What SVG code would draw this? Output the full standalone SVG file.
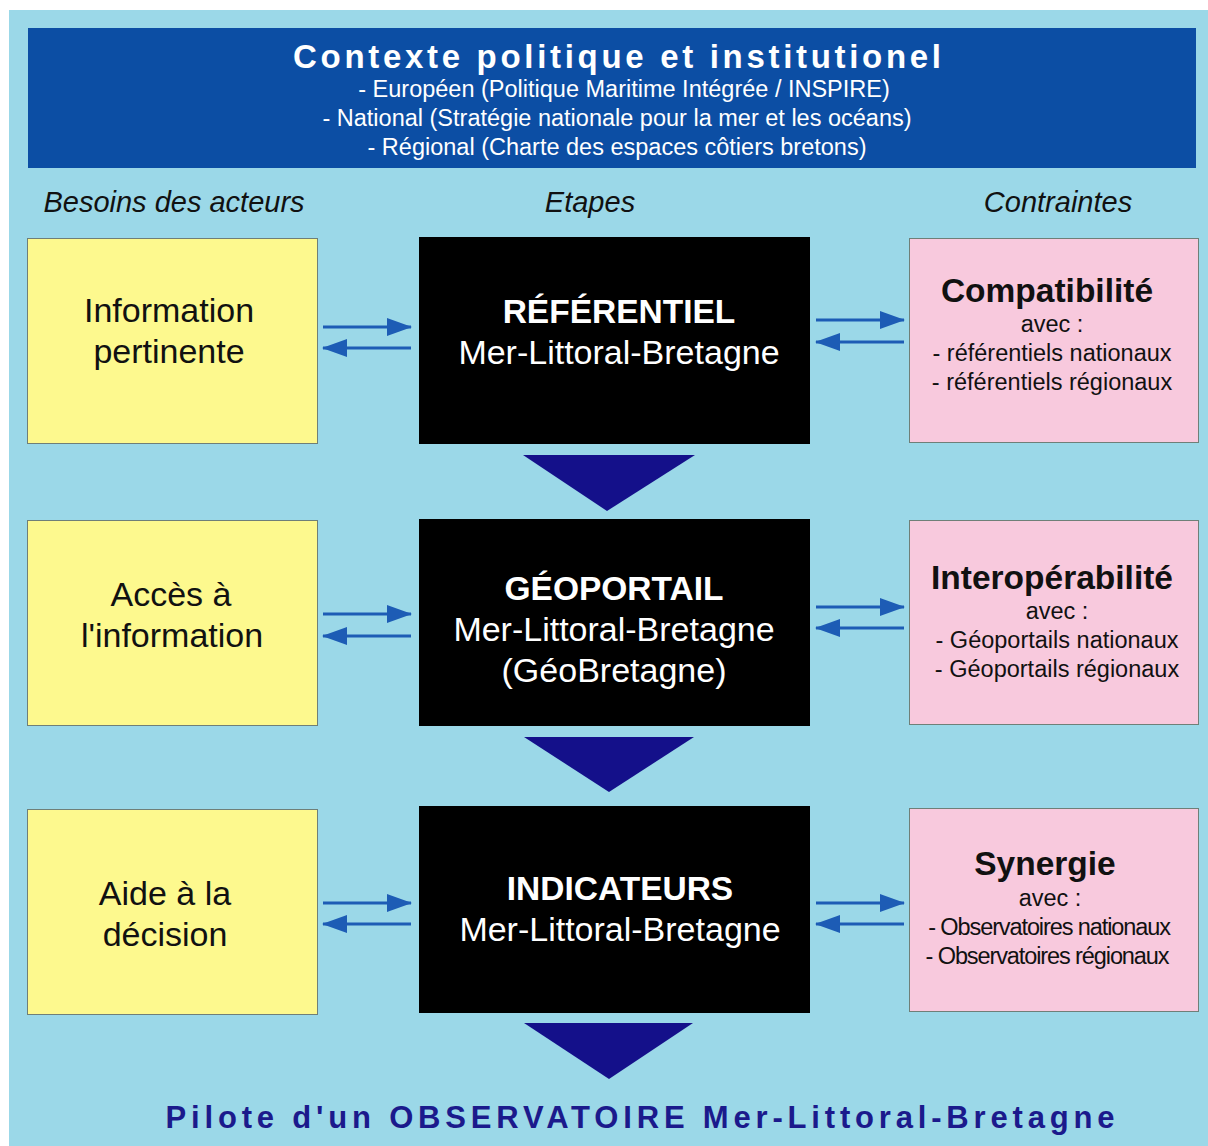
<svg xmlns="http://www.w3.org/2000/svg" width="1208" height="1146" viewBox="0 0 1208 1146">
<style>
.bg{fill:#9bd8e8}
.hdr{fill:#0c4ea4}
.yel{fill:#fdf98e;stroke:#6f7f78;stroke-width:1}
.blk{fill:#000000}
.pnk{fill:#f8c9dd;stroke:#6f7f78;stroke-width:1}
.tri{fill:#14108a}
.con{stroke:#1d5cb5;stroke-width:3;fill:none;marker-end:url(#ah)}
text{font-family:"Liberation Sans",Arial,sans-serif;text-anchor:middle}
.ht{font-size:33px;font-weight:bold;fill:#ffffff}
.hs{font-size:23.5px;fill:#ffffff}
.col{font-size:29px;font-style:italic;fill:#111111}
.yt{font-size:34px;fill:#111111}
.bt{font-size:33.5px;font-weight:bold;fill:#ffffff}
.bs{font-size:34px;fill:#ffffff}
.pt{font-size:33.5px;font-weight:bold;fill:#111111}
.ps{font-size:23.5px;fill:#111111}
.ft{font-size:31px;font-weight:bold;fill:#1b1a8c}
</style>
<defs>
<marker id="ah" markerUnits="userSpaceOnUse" markerWidth="26" markerHeight="20" refX="24" refY="9" orient="auto">
<path d="M0,0 L25,9 L0,18 z" fill="#1d5cb5"/>
</marker>
</defs>
<rect x="0" y="0" width="1208" height="1146" fill="#ffffff"/>
<rect class="bg" x="9" y="10" width="1199" height="1136"/>

<g id="header">
<rect class="hdr" x="28" y="28" width="1168" height="140"/>
<text class="ht" x="617" y="68" textLength="648" lengthAdjust="spacing">Contexte politique et institutionel</text>
<text class="hs" x="624" y="97">- Européen (Politique Maritime Intégrée / INSPIRE)</text>
<text class="hs" x="617" y="126">- National (Stratégie nationale pour la mer et les océans)</text>
<text class="hs" x="617" y="155">- Régional (Charte des espaces côtiers bretons)</text>
</g>

<g id="column-headers">
<text class="col" x="174" y="212">Besoins des acteurs</text>
<text class="col" x="590" y="212">Etapes</text>
<text class="col" x="1058" y="212">Contraintes</text>
</g>

<g id="besoin1">
<rect class="yel" x="27.5" y="238.5" width="290" height="205"/>
<text class="yt" x="169" y="322">Information</text>
<text class="yt" x="169" y="363">pertinente</text>
</g>
<g id="besoin2">
<rect class="yel" x="27.5" y="520.5" width="290" height="205"/>
<text class="yt" x="171" y="606">Accès à</text>
<text class="yt" x="172" y="647">l'information</text>
</g>
<g id="besoin3">
<rect class="yel" x="27.5" y="809.5" width="290" height="205"/>
<text class="yt" x="165" y="905">Aide à la</text>
<text class="yt" x="165" y="946">décision</text>
</g>

<g id="etape1">
<rect class="blk" x="419" y="237" width="391" height="207"/>
<text class="bt" x="619" y="323">RÉFÉRENTIEL</text>
<text class="bs" x="619" y="364">Mer-Littoral-Bretagne</text>
</g>
<g id="etape2">
<rect class="blk" x="419" y="519" width="391" height="207"/>
<text class="bt" x="614" y="600">GÉOPORTAIL</text>
<text class="bs" x="614" y="641">Mer-Littoral-Bretagne</text>
<text class="bs" x="614" y="682">(GéoBretagne)</text>
</g>
<g id="etape3">
<rect class="blk" x="419" y="806" width="391" height="207"/>
<text class="bt" x="620" y="900">INDICATEURS</text>
<text class="bs" x="620" y="941">Mer-Littoral-Bretagne</text>
</g>

<g id="contrainte1">
<rect class="pnk" x="909.5" y="238.5" width="289" height="204"/>
<text class="pt" x="1047" y="302">Compatibilité</text>
<text class="ps" x="1052" y="332">avec :</text>
<text class="ps" x="1052" y="361">- référentiels nationaux</text>
<text class="ps" x="1052" y="390">- référentiels régionaux</text>
</g>
<g id="contrainte2">
<rect class="pnk" x="909.5" y="520.5" width="289" height="204"/>
<text class="pt" x="1052" y="589">Interopérabilité</text>
<text class="ps" x="1057" y="619">avec :</text>
<text class="ps" x="1057" y="648">- Géoportails nationaux</text>
<text class="ps" x="1057" y="677">- Géoportails régionaux</text>
</g>
<g id="contrainte3">
<rect class="pnk" x="909.5" y="808.5" width="289" height="203"/>
<text class="pt" x="1045" y="875">Synergie</text>
<text class="ps" x="1050" y="906">avec :</text>
<text class="ps" x="1049" y="935" letter-spacing="-1.1">- Observatoires nationaux</text>
<text class="ps" x="1047" y="964" letter-spacing="-1.1">- Observatoires régionaux</text>
</g>

<g id="connectors">
<line class="con" x1="323" y1="327" x2="411" y2="327"/>
<line class="con" x1="411" y1="348" x2="323" y2="348"/>
<line class="con" x1="816" y1="320" x2="904" y2="320"/>
<line class="con" x1="904" y1="342" x2="816" y2="342"/>

<line class="con" x1="323" y1="614" x2="411" y2="614"/>
<line class="con" x1="411" y1="636" x2="323" y2="636"/>
<line class="con" x1="816" y1="607" x2="904" y2="607"/>
<line class="con" x1="904" y1="628" x2="816" y2="628"/>

<line class="con" x1="323" y1="903" x2="411" y2="903"/>
<line class="con" x1="411" y1="924" x2="323" y2="924"/>
<line class="con" x1="816" y1="903" x2="904" y2="903"/>
<line class="con" x1="904" y1="924" x2="816" y2="924"/>

<polygon class="tri" points="523,455 695,455 607,511"/>
<polygon class="tri" points="524,737 694,737 609,792"/>
<polygon class="tri" points="524,1023 693,1023 609,1079"/>
</g>

<g id="footer">
<text class="ft" x="640" y="1128" textLength="949" lengthAdjust="spacing">Pilote d'un OBSERVATOIRE Mer-Littoral-Bretagne</text>
</g>
</svg>
